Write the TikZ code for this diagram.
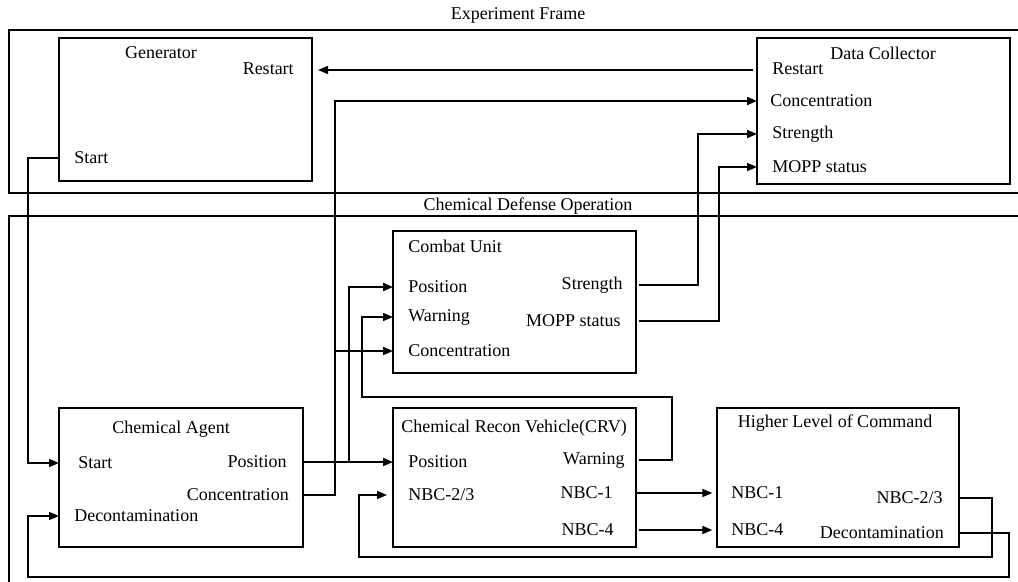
\documentclass[tikz,border=0pt]{standalone}
\usepackage{fontspec}
\setmainfont{Liberation Serif}
\usetikzlibrary{arrows.meta}
\begin{document}
\begin{tikzpicture}[x=0.75pt,y=-0.75pt,
  box/.style 2 args={draw, line width=1.2pt, inner sep=0pt, outer sep=0pt, anchor=north west,
    minimum width=#1*0.75pt, minimum height=#2*0.75pt},
  lbl/.style={font=\fontsize{13.5}{15}\selectfont, inner sep=0pt},
  frame/.style={line width=1.1pt},
  conn/.style={line width=1.1pt, -{Triangle[length=7.5pt,width=6pt]}},
  thickconn/.style={line width=1.5pt, -{Triangle[length=7.5pt,width=6pt]}}]
\useasboundingbox (0,0) rectangle (1018,582);

% frames
\draw[frame] (1018,30) -- (9,30) -- (9,193) -- (1018,193);
\node[lbl] (eft) at (518,15) {Experiment Frame};
\draw[frame] (1018,216) -- (9,216) -- (9,582);
\node[lbl] (cdt) at (528,206) {Chemical Defense Operation};

% boxes
\node[box={253}{143}] (gen) at (59,38) {};
\node[box={253}{146}] (dc) at (757,38) {};
\node[box={243}{142}] (cu) at (393,231) {};
\node[box={244}{139}] (ca) at (59,408) {};
\node[box={243}{139}] (crv) at (393,408) {};
\node[box={242}{139}] (hlc) at (717,408) {};

% Generator
\node[lbl] (genT) at (161,53) {Generator};
\node[lbl, anchor=east] (genRestart) at (294,69) {Restart};
\node[lbl, anchor=west] (genStart) at (74,158) {Start};

% Data Collector
\node[lbl] (dcT) at (883,53) {Data Collector};
\node[lbl, anchor=west] (dcRestart) at (772,69) {Restart};
\node[lbl, anchor=west] (dcConc) at (770,101) {Concentration};
\node[lbl, anchor=west] (dcStr) at (772,134) {Strength};
\node[lbl, anchor=west] (dcMopp) at (772,167) {MOPP status};

% Combat Unit
\node[lbl] (cuT) at (455,246) {Combat Unit};
\node[lbl, anchor=west] (cuPos) at (408,287) {Position};
\node[lbl, anchor=west] (cuWarn) at (408,317) {Warning};
\node[lbl, anchor=west] (cuConc) at (408,351) {Concentration};
\node[lbl, anchor=east] (cuStr) at (623,285) {Strength};
\node[lbl, anchor=east] (cuMopp) at (621,321) {MOPP status};

% Chemical Agent
\node[lbl] (caT) at (171,429) {Chemical Agent};
\node[lbl, anchor=west] (caStart) at (78,463) {Start};
\node[lbl, anchor=east] (caPos) at (287,462) {Position};
\node[lbl, anchor=east] (caConc) at (289,495) {Concentration};
\node[lbl, anchor=west] (caDec) at (74,516) {Decontamination};

% CRV
\node[lbl] (crvT) at (514,428) {Chemical Recon Vehicle(CRV)};
\node[lbl, anchor=west] (crvPos) at (408,462) {Position};
\node[lbl, anchor=west] (crvN23) at (408,495) {NBC-2/3};
\node[lbl, anchor=east] (crvWarn) at (625,460) {Warning};
\node[lbl, anchor=east] (crvN1) at (613,493) {NBC-1};
\node[lbl, anchor=east] (crvN4) at (614,530) {NBC-4};

% Higher Level of Command
\node[lbl] (hlcT) at (835,423) {Higher Level of Command};
\node[lbl, anchor=west] (hlcN1) at (731,493) {NBC-1};
\node[lbl, anchor=west] (hlcN4) at (731,530) {NBC-4};
\node[lbl, anchor=east] (hlcN23) at (943,498) {NBC-2/3};
\node[lbl, anchor=east] (hlcDec) at (944,533) {Decontamination};

% routing coordinates
\coordinate (jConc) at (335,0);
\coordinate (jPos) at (349,0);
\coordinate (jStart) at (28,0);
\coordinate (jStr) at (698,0);
\coordinate (jMopp) at (719,0);
\coordinate (w1) at (672,397);
\coordinate (w2) at (362,397);
\coordinate (n1) at (992,557);
\coordinate (n2) at (359,557);
\coordinate (d1) at (1009,577);
\coordinate (d2) at (28,577);

% connectors
\draw[conn, shorten >=4.5pt, shorten <=3pt] (dc.west |- 0,70) -- (gen.east |- 0,70);
\draw[thickconn] (ca.east |- caConc) -- (jConc |- caConc) -- (jConc |- dcConc) -- (dc.west |- dcConc);
\draw[conn] (jConc |- cuConc) -- (cu.west |- cuConc);
\draw[thickconn] (ca.east |- caPos) -- (crv.west |- caPos);
\draw[thickconn] (jPos |- caPos) -- (jPos |- cuPos) -- (cu.west |- cuPos);
\draw[conn] (gen.west |- genStart) -- (jStart |- genStart) -- (jStart |- caStart) -- (ca.west |- caStart);
\draw[conn, shorten <=2pt] (cu.east |- cuStr) -- (jStr |- cuStr) -- (jStr |- dcStr) -- (dc.west |- dcStr);
\draw[conn, shorten <=2pt] (cu.east |- cuMopp) -- (jMopp |- cuMopp) -- (jMopp |- dcMopp) -- (dc.west |- dcMopp);
\draw[conn, shorten <=2pt] (crv.east |- crvWarn) -| (w1) -- (w2) |- (cu.west |- cuWarn);
\draw[conn, shorten >=3.5pt] (crv.east |- crvN1) -- (hlc.west |- crvN1);
\draw[thickconn, shorten >=3.5pt, shorten <=2pt] (crv.east |- crvN4) -- (hlc.west |- crvN4);
\draw[conn, shorten >=4.5pt] (hlc.east |- hlcN23) -| (n1) -- (n2) |- (crv.west |- crvN23);
\draw[conn] (hlc.east |- hlcDec) -| (d1) -- (d2) |- (ca.west |- caDec);
\end{tikzpicture}
\end{document}
